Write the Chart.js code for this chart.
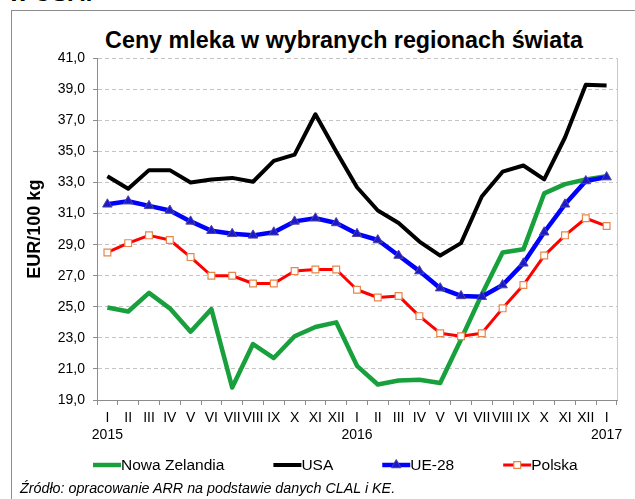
<!DOCTYPE html>
<html>
<head>
<meta charset="utf-8">
<script src="https://cdn.jsdelivr.net/npm/chart.js@4/dist/chart.umd.min.js"></script>
<style>
  html, body { margin: 0; padding: 0; background: #fff; }
  body { width: 635px; height: 499px; position: relative; overflow: hidden; font-family: "Liberation Sans", Arial, sans-serif; }
  #head { position: absolute; left: 9px; top: -19px; font-size: 24px; font-weight: bold; line-height: 24px; }
  #frame { position: absolute; left: 11px; top: 10px; width: 700px; height: 600px; border-left: 1px solid #8c8c8c; border-top: 1px solid #8c8c8c; }
  #wrap { position: absolute; left: 0; top: 0; width: 635px; height: 499px; }
  #title { position: absolute; left: 44px; width: 600px; top: 26px; text-align: center; font-size: 23.3px; font-weight: bold; line-height: 28px; }
  #note { position: absolute; left: 20px; top: 480px; font-size: 14.3px; font-style: italic; line-height: 16px; }
</style>
</head>
<body>
<div id="head">w USA:</div>
<div id="frame"></div>
<div id="title">Ceny mleka w wybranych regionach świata</div>
<div id="wrap"><canvas id="chart" width="635" height="499"></canvas></div>
<div id="note">Źródło: opracowanie ARR na podstawie danych CLAL i KE.</div>
<script>
// months of 2015-01 .. 2017-01
const monthLabels = ["I", "II", "III", "IV", "V", "VI", "VII", "VIII", "IX", "X", "XI", "XII",
  "I", "II", "III", "IV", "V", "VI", "VII", "VIII", "IX", "X", "XI", "XII", "I"];
const yearLabels = ["2015", "", "", "", "", "", "", "", "", "", "", "",
  "2016", "", "", "", "", "", "", "", "", "", "", "", "2017"];

const seriesNames = ["Nowa Zelandia", "USA", "UE-28", "Polska"];

// EUR/100 kg
const nzValues = [24.95, 24.7, 25.9, 24.9, 23.4, 24.85, 19.8, 22.6, 21.7, 23.1, 23.7, 24.0,
  21.2, 20.0, 20.25, 20.3, 20.1, 22.9, 25.8, 28.5, 28.7, 32.3, 32.9, 33.2, 33.4];
const usaValues = [33.4, 32.6, 33.8, 33.8, 33.0, 33.2, 33.3, 33.05, 34.4, 34.8, 37.4, 35.0,
  32.7, 31.2, 30.4, 29.2, 28.3, 29.1, 32.1, 33.7, 34.1, 33.2, 35.9, 39.3, 39.25];
const ueValues = [31.6, 31.8, 31.5, 31.2, 30.5, 29.9, 29.7, 29.6, 29.8, 30.5, 30.7, 30.4,
  29.7, 29.3, 28.3, 27.3, 26.2, 25.7, 25.65, 26.4, 27.8, 29.8, 31.6, 33.1, 33.35];
const plValues = [28.5, 29.1, 29.6, 29.3, 28.2, 27.0, 27.0, 26.5, 26.5, 27.3, 27.4, 27.4,
  26.1, 25.6, 25.7, 24.4, 23.3, 23.1, 23.3, 24.9, 26.4, 28.3, 29.6, 30.7, 30.2];

const yMin = 19;
const yMax = 41;
const yStep = 2;

const FONT = "'Liberation Sans', Arial, sans-serif";
Chart.defaults.font.family = FONT;
Chart.defaults.color = "#000";

const labels = monthLabels.map((m, i) => (yearLabels[i] ? [m, yearLabels[i]] : m));

// own legend: line sample with marker in the middle, then the text
const legendPlugin = {
  id: "lineLegend",
  afterDraw(chart) {
    const ctx = chart.ctx;
    const y = 465;
    let x = 93;
    ctx.save();
    ctx.font = "15.5px " + FONT;
    ctx.textBaseline = "middle";
    chart.data.datasets.forEach((ds) => {
      const len = 28;
      ctx.strokeStyle = ds.borderColor;
      ctx.lineWidth = ds.borderWidth;
      ctx.beginPath();
      ctx.moveTo(x, y);
      ctx.lineTo(x + len, y);
      ctx.stroke();
      if (ds.pointRadius > 0) {
        ctx.fillStyle = ds.pointBackgroundColor;
        ctx.strokeStyle = ds.pointBorderColor;
        ctx.lineWidth = ds.pointBorderWidth;
        Chart.helpers.drawPoint(ctx, {
          pointStyle: ds.pointStyle,
          radius: ds.pointRadius,
          borderWidth: ds.pointBorderWidth,
          rotation: 0,
        }, x + len / 2, y);
      }
      ctx.fillStyle = "#000";
      ctx.fillText(ds.label, x + len, y + 1);
      x += len + ctx.measureText(ds.label).width + 49;
    });
    ctx.restore();
  },
};

// thin right border of the plot area
const frameRight = {
  id: "frameRight",
  beforeDatasetsDraw(chart) {
    const { ctx, chartArea } = chart;
    ctx.save();
    ctx.strokeStyle = "#c8c8c8";
    ctx.lineWidth = 1;
    ctx.beginPath();
    ctx.moveTo(chartArea.right + 0.5, chartArea.top);
    ctx.lineTo(chartArea.right + 0.5, chartArea.bottom);
    ctx.stroke();
    ctx.restore();
  },
};

new Chart(document.getElementById("chart"), {
  type: "line",
  data: {
    labels: labels,
    datasets: [
      {
        label: seriesNames[0],
        data: nzValues,
        borderColor: "#17a03c",
        borderWidth: 4.5,
        pointRadius: 0,
        order: 4,
      },
      {
        label: seriesNames[1],
        data: usaValues,
        borderColor: "#000000",
        borderWidth: 4,
        pointRadius: 0,
        order: 3,
      },
      {
        label: seriesNames[2],
        data: ueValues,
        borderColor: "#0000ff",
        borderWidth: 4.5,
        pointStyle: "triangle",
        pointRadius: 5.5,
        pointBackgroundColor: "#1a1acc",
        pointBorderColor: "#5046a0",
        pointBorderWidth: 1,
        order: 2,
      },
      {
        label: seriesNames[3],
        data: plValues,
        borderColor: "#ff0000",
        borderWidth: 3,
        pointStyle: "rect",
        pointRadius: 4.8,
        pointBackgroundColor: "#ffffff",
        pointBorderColor: "#e8864a",
        pointBorderWidth: 1.2,
        order: 1,
      },
    ],
  },
  options: {
    responsive: false,
    animation: false,
    devicePixelRatio: 1,
    elements: {
      line: { tension: 0, borderJoinStyle: "round", borderCapStyle: "butt" },
    },
    layout: { padding: { top: 58.3, left: 0, right: 18, bottom: 57 } },
    plugins: {
      legend: { display: false },
      tooltip: { enabled: false },
      title: { display: false },
    },
    scales: {
      x: {
        type: "category",
        offset: true,
        grid: {
          offset: true,
          drawOnChartArea: false,
          drawTicks: true,
          tickLength: 5,
          tickColor: "#8c8c8c",
          color: "#8c8c8c",
        },
        border: { color: "#8c8c8c" },
        ticks: {
          autoSkip: false,
          maxRotation: 0,
          minRotation: 0,
          padding: 5,
          font: { size: 14, lineHeight: 1.22 },
          color: "#000",
        },
        afterFit: (scale) => {
          scale.height = 42;
        },
      },
      y: {
        min: yMin,
        max: yMax,
        grid: {
          color: "#c4c4c4",
          tickColor: "#8c8c8c",
          tickLength: 4,
        },
        border: { color: "#8c8c8c", dash: [4, 3] },
        ticks: {
          stepSize: yStep,
          padding: 8,
          font: { size: 14 },
          color: "#000",
          callback: (v) => v.toFixed(1).replace(".", ","),
        },
        title: {
          display: true,
          text: "EUR/100 kg",
          font: { size: 18, weight: "bold" },
          color: "#000",
          padding: { top: 24 },
        },
        afterFit: (scale) => {
          scale.width = 97;
        },
      },
    },
  },
  plugins: [legendPlugin, frameRight],
});
</script>
</body>
</html>
